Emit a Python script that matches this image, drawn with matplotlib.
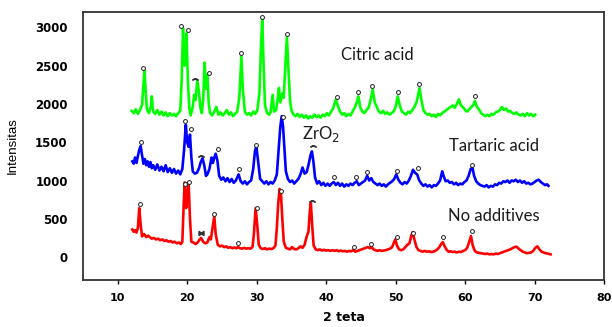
import matplotlib.pyplot as plt

# citric acid (green)
citric_x = [12.0, 12.3, 12.6, 12.9, 13.2, 13.5, 13.7, 13.85, 14.0, 14.2, 14.5, 14.75, 14.9, 15.1, 15.4,
            15.7, 16.0, 16.3, 16.6, 16.9, 17.2, 17.5, 17.8, 18.1, 18.4, 18.7, 19.0, 19.2, 19.4, 19.6,
            19.75, 19.9, 20.1, 20.3, 20.5, 20.8, 21.0, 21.2, 21.45, 21.7, 21.9, 22.1, 22.3, 22.5, 22.7,
            22.9, 23.1, 23.3, 23.6, 23.9, 24.2, 24.5, 24.8, 25.1, 25.4, 25.7, 26.0, 26.3, 26.6, 26.9,
            27.2, 27.5, 27.8, 28.0, 28.3, 28.6, 28.9, 29.2, 29.5, 29.8, 30.1, 30.4, 30.6, 30.8, 31.0,
            31.2, 31.5, 31.8, 32.0, 32.3, 32.5, 32.8, 33.0, 33.2, 33.4, 33.7, 33.9, 34.1, 34.35, 34.6,
            34.8, 35.0, 35.3, 35.6, 35.9, 36.2, 36.5, 36.8, 37.1, 37.4, 37.7, 38.0, 38.3, 38.6, 38.9,
            39.2, 39.5, 39.8, 40.1, 40.4, 40.7, 41.0, 41.4, 41.7, 42.0, 42.3, 42.6, 42.9, 43.2, 43.5,
            43.8, 44.1, 44.4, 44.65, 44.9, 45.2, 45.5, 45.8, 46.1, 46.4, 46.7, 47.0, 47.3, 47.6, 47.9,
            48.2, 48.5, 48.8, 49.1, 49.4, 49.7, 50.0, 50.3, 50.6, 50.9, 51.2, 51.5, 51.8, 52.1, 52.4,
            52.7, 53.0, 53.2, 53.45, 53.7, 54.0, 54.3, 54.6, 54.9, 55.2, 55.5, 55.8, 56.1, 56.4, 56.7,
            57.0, 57.3, 57.6, 57.9, 58.2, 58.5, 58.8, 59.1, 59.4, 59.7, 60.0, 60.3, 60.6, 60.9, 61.2,
            61.4, 61.7, 62.0, 62.3, 62.6, 62.9, 63.2, 63.5, 63.8, 64.1, 64.4, 64.7, 65.0, 65.3, 65.6,
            65.9, 66.2, 66.5, 66.8, 67.1, 67.4, 67.7, 68.0, 68.3, 68.6, 68.9, 69.2, 69.5, 69.8, 70.1]
citric_y = [1910, 1880, 1930, 1870, 1920, 1990, 2250, 2440, 2200, 1930, 1880, 1960, 2100, 1900, 1870,
            1920, 1860, 1900, 1850, 1890, 1840, 1880, 1850, 1870, 1840, 1880, 1910, 2300, 2990, 2500,
            2600, 2920, 2300, 1950, 1850, 1960, 2120, 2050, 2310, 2150, 1950, 1880, 2050, 2540, 2200,
            2380, 2000, 1880, 1850, 1900, 1960, 1860, 1890, 1850, 1880, 1920, 1860, 1890, 1840, 1870,
            1900, 2080, 2620, 2200, 1900, 1860, 1880, 1850, 1900, 1870, 1920, 2150, 2700, 3120, 2500,
            1980, 1880, 1860, 1890, 2120, 1900, 1920, 2050, 2210, 2020, 2140, 2080, 2450, 2880, 2400,
            2050, 1920, 1860, 1840, 1870, 1830, 1860, 1820, 1850, 1810, 1840, 1820, 1860, 1830, 1850,
            1820, 1860, 1840, 1880, 1850, 1900, 1940, 2060, 1970, 1900, 1860, 1880, 1840, 1870, 1850,
            1900, 1950, 2020, 2100, 1960, 1900, 1880, 1920, 1950, 2050, 2190, 2020, 1960, 1900, 1880,
            1910, 1870, 1890, 1860, 1880, 1900, 1960, 2100, 1980, 1900, 1880, 1860, 1900, 1880, 1920,
            1960, 2020, 2100, 2210, 2060, 1920, 1880, 1860, 1870, 1840, 1860, 1830, 1870, 1850, 1880,
            1900, 1920, 1940, 1960, 1980, 1950, 2000, 2060, 1980, 1960, 1920, 1900, 1930, 1960, 1990,
            2040, 1960, 1930, 1880, 1860, 1840, 1860, 1840, 1870, 1860, 1890, 1900, 1920, 1960, 1920,
            1940, 1900, 1910, 1880, 1870, 1890, 1860, 1850, 1870, 1840, 1880, 1850, 1870, 1840, 1860]

# tartaric acid (blue)
tartaric_x = [12.1, 12.3, 12.5, 12.7, 12.9, 13.1, 13.3, 13.5, 13.7, 13.9, 14.1, 14.3, 14.5, 14.7, 14.9,
              15.1, 15.4, 15.7, 16.0, 16.3, 16.6, 16.9, 17.2, 17.5, 17.8, 18.1, 18.4, 18.7, 19.0, 19.3,
              19.55, 19.8, 20.0, 20.2, 20.4, 20.6, 20.8, 21.1, 21.4, 21.7, 21.95, 22.2, 22.45, 22.7, 22.9,
              23.2, 23.5, 23.7, 23.9, 24.1, 24.35, 24.6, 24.9, 25.2, 25.5, 25.8, 26.1, 26.4, 26.7, 27.0,
              27.4, 27.7, 28.0, 28.3, 28.6, 28.9, 29.2, 29.5, 29.75, 29.95, 30.2, 30.5, 30.8, 31.1, 31.4,
              31.7, 32.0, 32.3, 32.6, 32.9, 33.15, 33.4, 33.6, 33.8, 34.0, 34.2, 34.5, 34.8, 35.1, 35.4,
              35.7, 36.0, 36.3, 36.6, 36.9, 37.2, 37.5, 37.75, 37.95, 38.15, 38.4, 38.7, 39.0, 39.3, 39.6,
              39.9, 40.2, 40.5, 40.8, 41.1, 41.4, 41.7, 42.0, 42.3, 42.6, 42.9, 43.2, 43.5, 43.8, 44.1,
              44.4, 44.7, 45.0, 45.3, 45.6, 45.9, 46.2, 46.5, 46.8, 47.1, 47.4, 47.7, 48.0, 48.3, 48.6,
              48.9, 49.2, 49.5, 49.8, 50.1, 50.4, 50.7, 51.0, 51.3, 51.6, 51.9, 52.2, 52.5, 52.8, 53.1,
              53.4, 53.7, 54.0, 54.3, 54.6, 54.9, 55.2, 55.5, 55.8, 56.1, 56.4, 56.7, 56.9, 57.2, 57.5,
              57.8, 58.1, 58.4, 58.7, 59.0, 59.3, 59.6, 59.9, 60.2, 60.5, 60.8, 61.05, 61.3, 61.6, 61.9,
              62.2, 62.5, 62.8, 63.1, 63.4, 63.7, 64.0, 64.3, 64.6, 64.9, 65.2, 65.5, 65.8, 66.1, 66.4,
              66.7, 67.0, 67.3, 67.6, 67.9, 68.2, 68.5, 68.8, 69.1, 69.4, 69.7, 70.0, 70.3, 70.6, 70.9,
              71.2, 71.5, 71.8, 72.0]
tartaric_y = [1250, 1220, 1300, 1230, 1320, 1400, 1450, 1330, 1220, 1280, 1200, 1250, 1180, 1240, 1160,
              1200, 1140, 1210, 1130, 1180, 1120, 1200, 1110, 1160, 1100, 1150, 1090, 1130, 1080, 1150,
              1400, 1730, 1500, 1440, 1600, 1300, 1120, 1090, 1100, 1160, 1240, 1290, 1200, 1060, 1080,
              1150, 1300, 1230, 1300, 1350, 1260, 1060, 1010, 1040, 990, 1030, 980, 1020, 970, 1000,
              1080, 990, 960, 990, 950, 980, 1000, 1150, 1380, 1450, 1250, 1020, 990, 960, 990,
              950, 980, 960, 1000, 1080, 1400, 1700, 1840, 1700, 1400, 1120, 1020, 980, 1000, 960,
              990, 1020, 1080, 1170, 1090, 1110, 1220, 1330, 1380, 1260, 1040, 960, 990, 940, 970,
              930, 960, 930, 960, 980, 940, 970, 930, 960, 920, 950, 930, 960, 940, 970,
              990, 940, 960, 980, 1000, 1060, 1000, 1030, 980, 960, 940, 960, 930, 950, 920,
              950, 970, 990, 1020, 1080, 1010, 970, 950, 980, 960, 1000, 1060, 1140, 1100, 1080,
              1000, 960, 930, 950, 920, 940, 910, 940, 930, 960, 1000, 1120, 1060, 990, 1000,
              970, 980, 950, 970, 940, 960, 950, 980, 1000, 1060, 1150, 1170, 1060, 990, 960,
              940, 930, 920, 940, 910, 930, 920, 950, 940, 970, 960, 990, 980, 1000, 970,
              1000, 990, 1010, 980, 1000, 970, 990, 960, 970, 950, 960, 980, 1000, 1010, 980,
              960, 940, 950, 930]

# no additives (red)
plain_x = [12.1, 12.3, 12.5, 12.7, 12.9, 13.1, 13.3, 13.5, 13.8, 14.1, 14.4, 14.6, 14.9, 15.2, 15.5,
           15.8, 16.1, 16.4, 16.7, 17.0, 17.3, 17.6, 17.9, 18.2, 18.5, 18.8, 19.1, 19.3, 19.5, 19.65,
           19.85, 20.0, 20.2, 20.4, 20.6, 20.9, 21.2, 21.5, 21.8, 22.0, 22.3, 22.6, 22.9, 23.2, 23.4,
           23.65, 23.9, 24.1, 24.4, 24.7, 25.0, 25.3, 25.6, 25.9, 26.2, 26.5, 26.8, 27.1, 27.3, 27.6,
           27.9, 28.2, 28.5, 28.8, 29.1, 29.4, 29.6, 29.85, 30.1, 30.3, 30.6, 30.9, 31.2, 31.5, 31.8,
           32.1, 32.4, 32.7, 32.9, 33.1, 33.3, 33.5, 33.7, 33.9, 34.2, 34.5, 34.8, 35.1, 35.4, 35.7,
           36.0, 36.3, 36.6, 36.9, 37.2, 37.45, 37.65, 37.8, 38.0, 38.2, 38.5, 38.8, 39.1, 39.4, 39.7,
           40.0, 40.3, 40.6, 40.9, 41.2, 41.5, 41.8, 42.1, 42.4, 42.7, 43.0, 43.3, 43.6, 43.9, 44.2,
           44.5, 44.8, 45.1, 45.4, 45.7, 46.0, 46.3, 46.5, 46.8, 47.1, 47.4, 47.7, 48.0, 48.3, 48.6,
           48.9, 49.2, 49.5, 49.8, 49.95, 50.2, 50.5, 50.8, 51.1, 51.4, 51.7, 52.0, 52.25, 52.45, 52.7,
           53.0, 53.3, 53.6, 53.9, 54.2, 54.5, 54.8, 55.1, 55.4, 55.7, 56.0, 56.3, 56.55, 56.8, 57.0,
           57.3, 57.6, 57.9, 58.2, 58.5, 58.8, 59.1, 59.4, 59.7, 60.0, 60.3, 60.6, 60.85, 61.1, 61.4,
           61.7, 62.0, 62.3, 62.6, 62.9, 63.2, 63.5, 63.8, 64.1, 64.4, 64.7, 65.0, 65.3, 65.6, 65.9,
           66.2, 66.5, 66.8, 67.1, 67.4, 67.7, 68.0, 68.3, 68.6, 68.9, 69.2, 69.5, 69.8, 70.1, 70.4,
           70.7, 71.0, 71.3, 71.6, 71.9, 72.3]
plain_y = [360, 330, 350, 320, 380, 640, 420, 270, 300, 260, 280, 260, 240, 250, 230,
           240, 220, 230, 210, 220, 200, 210, 190, 200, 180, 190, 170, 200, 700, 975,
           640, 800, 975, 500, 200, 190, 170, 190, 230, 250, 200, 180, 190, 260, 230,
           380, 535, 300, 160, 140, 150, 130, 140, 120, 130, 115, 125, 115, 130, 115,
           110, 120, 110, 115, 110, 130, 300, 640, 400, 160, 115, 105, 115, 100, 110,
           105, 115, 150, 380, 700, 890, 820, 480, 200, 120, 110, 100, 130, 105, 100,
           115, 140, 120, 160, 270, 330, 600, 705, 400, 150, 100, 90, 100, 85, 95,
           85, 90, 80, 90, 80, 90, 75, 85, 75, 80, 70, 80, 75, 90, 70,
           80, 90, 100, 110, 120, 130, 115, 140, 100, 90, 80, 90, 80, 85, 90,
           100, 110, 130, 200, 230, 150, 100, 90, 100, 130, 160, 180, 280, 325, 230,
           130, 90, 80, 70, 80, 70, 75, 65, 70, 80, 100, 130, 170, 195, 150,
           100, 70, 75, 65, 70, 60, 70, 65, 80, 90, 120, 200, 275, 150, 80,
           60, 55, 50, 45, 40, 45, 35, 40, 35, 45, 40, 50, 60, 70, 80,
           90, 100, 115, 130, 135, 110, 90, 70, 60, 50, 55, 60, 80, 120, 140,
           100, 70, 60, 50, 45, 35]

# peak markers: circles and ZrO2 carets
citric_o_x = [13.64, 19.13, 20.08, 23.16, 27.75, 30.77, 34.36, 41.5, 44.6, 46.67, 50.3, 53.4, 61.46]
citric_o_y = [2475, 3018, 2961, 2410, 2662, 3131, 2918, 2097, 2158, 2236, 2154, 2262, 2106]
tartaric_o_x = [13.4, 19.7, 20.6, 24.45, 27.4, 29.93, 33.8, 41.2, 44.3, 45.9, 50.2, 53.15, 61.0]
tartaric_o_y = [1498, 1772, 1672, 1416, 1146, 1468, 1824, 1051, 1051, 1116, 1129, 1164, 1207]
plain_o_x = [13.2, 19.74, 20.3, 23.9, 27.25, 30.05, 33.5, 44.0, 46.45, 50.26, 52.55, 56.87, 60.95]
plain_o_y = [690, 960, 981, 560, 178, 647, 860, 126, 165, 256, 317, 260, 334]
caret_x = [21.1, 22.0, 38.1, 38.0]
caret_y = [2323, 1324, 1446, 738]
bowtie_x = [22.04]
bowtie_y = [308]

fig = plt.figure(figsize=(6.12, 3.27), dpi=100)
ax = fig.add_axes([0.1356, 0.1437, 0.8514, 0.8193])

ax.plot(citric_x, citric_y, color='#00ff00', lw=1.9)
ax.plot(tartaric_x, tartaric_y, color='#0000ff', lw=1.9)
ax.plot(plain_x, plain_y, color='#ff0000', lw=1.9)

for xs, ys in [(citric_o_x, citric_o_y), (tartaric_o_x, tartaric_o_y), (plain_o_x, plain_o_y)]:
    ax.plot(xs, ys, ls='none', marker='o', ms=2.8, mfc='white', mec='#222222', mew=0.7)
ax.plot(caret_x, caret_y, ls='none', marker=r'$\frown$', ms=4, color='#333333')
ax.plot(bowtie_x, bowtie_y, ls='none', marker=r'$\bowtie$', ms=3.5, color='#333333')

lab = dict(family='Lato', fontsize=12, color='#1a1a1a', ha='center', va='center')
ax.text(47.3, 2640, 'Citric acid', **lab)
ax.text(64.2, 1455, 'Tartaric acid', **lab)
ax.text(64.2, 534, 'No additives', **lab)
ax.text(39.3, 1607, r'ZrO$_2$', **lab)

ax.set_xlim(5, 80)
ax.set_ylim(-300, 3200)
ax.set_xticks(range(10, 81, 10))
ax.set_yticks(range(0, 3001, 500))
ax.tick_params(axis='x', direction='out', length=3, width=1, pad=6, labelsize=8)
ax.tick_params(axis='y', length=0, pad=11, labelsize=8.5)
for t in ax.get_xticklabels() + ax.get_yticklabels():
    t.set_fontweight('bold')
    t.set_family('DejaVu Sans')

for s in ax.spines.values():
    s.set_color('#333333')
    s.set_linewidth(1.3)

ax.set_xlabel('2 teta', fontsize=9, fontweight='bold', family='DejaVu Sans', labelpad=6)
ax.set_ylabel('Intensitas', fontsize=9.5, family='Liberation Sans', labelpad=12)

fig.savefig('out.png', dpi=100)
